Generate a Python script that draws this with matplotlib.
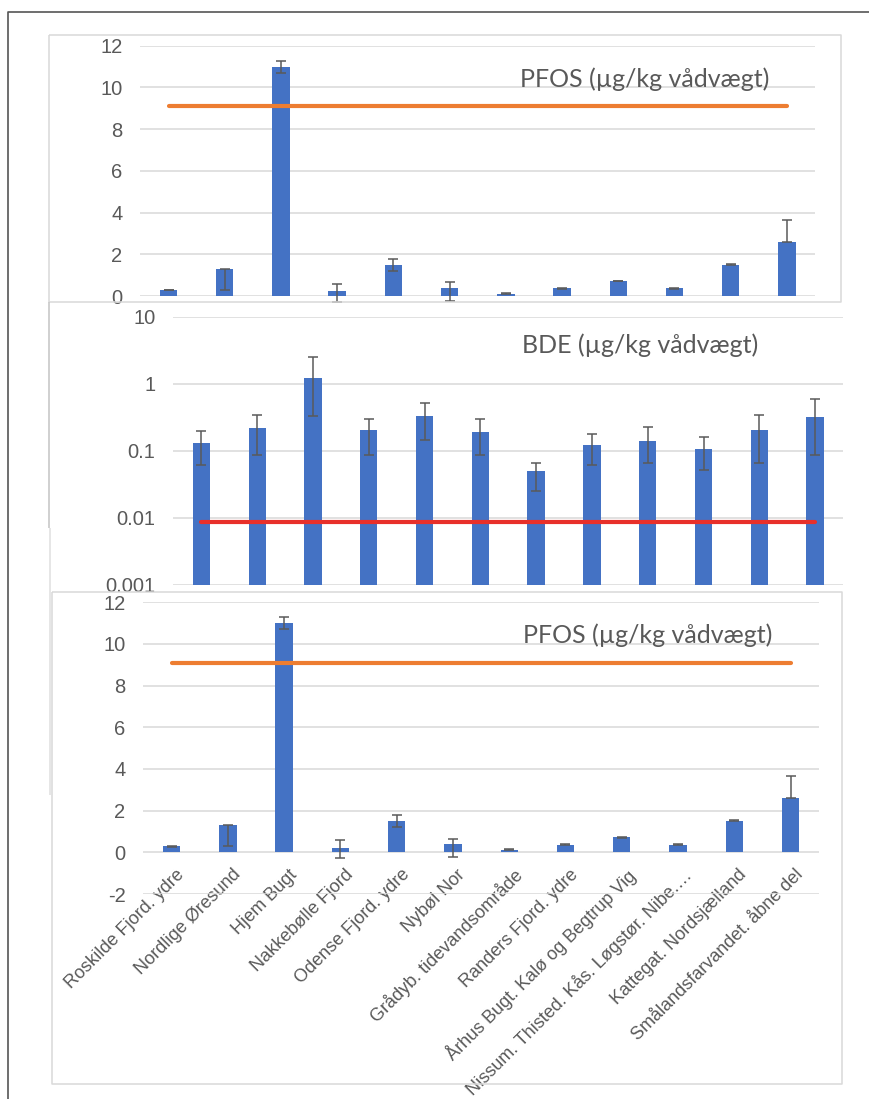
import matplotlib
matplotlib.use("Agg")
import matplotlib.pyplot as plt
from matplotlib.lines import Line2D
from matplotlib.transforms import ScaledTranslation
import numpy as np

# ---------------------------------------------------------------- data
sites = [
    "Roskilde Fjord. ydre",
    "Nordlige Øresund",
    "Hjem Bugt",
    "Nakkebølle Fjord",
    "Odense Fjord. ydre",
    "Nybøl Nor",
    "Grådyb. tidevandsområde",
    "Randers Fjord. ydre",
    "Århus Bugt. Kalø og Begtrup Vig",
    "Nissum. Thisted. Kås. Løgstør. Nibe.…",
    "Kattegat. Nordsjælland",
    "Smålandsfarvandet. åbne del",
]

pfos = [0.29, 1.30, 11.0, 0.23, 1.50, 0.38, 0.11, 0.37, 0.72, 0.37, 1.51, 2.60]
pfos_err_lo = [0.02, 1.02, 0.30, 0.50, 0.28, 0.60, 0.02, 0.02, 0.02, 0.02, 0.02, 0.0]
pfos_err_hi = [0.02, 0.0, 0.28, 0.35, 0.28, 0.27, 0.03, 0.02, 0.02, 0.02, 0.02, 1.04]

bde = [0.13, 0.22, 1.23, 0.20, 0.33, 0.19, 0.049, 0.12, 0.14, 0.107, 0.20, 0.32]
bde_err_lo = [0.07, 0.134, 0.90, 0.114, 0.185, 0.104, 0.024, 0.06, 0.074, 0.056, 0.134, 0.234]
bde_err_hi = [0.065, 0.12, 1.27, 0.10, 0.185, 0.11, 0.017, 0.055, 0.088, 0.053, 0.14, 0.26]

pfos_eqs = 9.1      # µg/kg wet weight
bde_eqs = 0.0085    # µg/kg wet weight

pfos_ticks = [0, 2, 4, 6, 8, 10, 12]
pfos_ticks_full = [-2, 0, 2, 4, 6, 8, 10, 12]
bde_ticks = [0.001, 0.01, 0.1, 1, 10]
bde_ticklabels = ["0.001", "0.01", "0.1", "1", "10"]

# ---------------------------------------------------------------- style
plt.rcParams["axes.unicode_minus"] = False
BLUE = "#4472C4"
ORANGE = "#ED7D31"
RED = "#E8302A"
GRID = "#D9D9D9"
TXT = "#595959"
ERR = "#5A5A5A"
TICK_FONT = ["Liberation Sans", "DejaVu Sans"]
LABEL_FONT = ["Lato", "DejaVu Sans"]

W, H = 870, 1099
fig = plt.figure(figsize=(W / 100, H / 100), dpi=100)
fig.patch.set_facecolor("white")


def axes_px(x0, x1, ytop, ybot):
    return fig.add_axes([x0 / W, 1 - ybot / H, (x1 - x0) / W, (ybot - ytop) / H])


def fig_line(xs, ys, color, lw):
    fig.add_artist(Line2D([x / W for x in xs], [1 - y / H for y in ys],
                          transform=fig.transFigure, color=color, lw=lw,
                          solid_capstyle="butt"))


def frame_px(x0, x1, ytop, ybot, color=GRID, lw=1.1):
    fig_line([x0, x1, x1, x0, x0], [ytop, ytop, ybot, ybot, ytop], color, lw)


def style_axes(ax):
    for s in ax.spines.values():
        s.set_visible(False)
    ax.set_facecolor("none")
    ax.grid(axis="y", color=GRID, lw=1.1)
    ax.set_axisbelow(True)
    ax.tick_params(axis="y", length=0, pad=13, labelsize=14.5, labelcolor=TXT)
    for lab in ax.get_yticklabels():
        lab.set_family(TICK_FONT)


def bars_with_errors(ax, vals, lo, hi):
    x = np.arange(len(vals))
    ax.bar(x, vals, width=0.31, color=BLUE, zorder=2)
    ax.errorbar(x, vals, yerr=[lo, hi], fmt="none", ecolor=ERR, elinewidth=1.1,
                capsize=3.6, capthick=1.1, zorder=3, clip_on=False)
    ax.set_xlim(-0.5, len(vals) - 0.5)
    return x


def label(x, y, s):
    fig.text(x / W, 1 - y / H, s, family=LABEL_FONT, fontsize=18, color=TXT,
             ha="left", va="baseline")


# outer frame of the page
fig_line([7.7, 7.7, 870], [1099, 11.7, 11.7], "#555555", 1.2)

# ---------------------------------------------------------------- panel 1: PFOS
frame_px(49, 841, 35, 301.7)
ax1 = axes_px(140.4, 815, 45.7, 296)
x = bars_with_errors(ax1, pfos, pfos_err_lo, pfos_err_hi)
ax1.plot([x[0], x[-1]], [pfos_eqs, pfos_eqs], color=ORANGE, lw=3,
         solid_capstyle="round", zorder=4)
ax1.set_ylim(0, 12)
ax1.set_yticks(pfos_ticks)
ax1.set_xticks([])
style_axes(ax1)
label(520.5, 86.7, "PFOS (µg/kg vådvægt)")

# ---------------------------------------------------------------- panel 2: BDE (log)
fig_line([49, 49], [302, 528], "#C8C8C8", 1.2)
fig_line([50, 50], [528, 795], "#E2E2E2", 1.2)
ax2 = axes_px(173.5, 843, 316.7, 584.5)
ax2.set_yscale("log")
x = bars_with_errors(ax2, bde, bde_err_lo, bde_err_hi)
ax2.plot([x[0], x[-1]], [bde_eqs, bde_eqs], color=RED, lw=3,
         solid_capstyle="round", zorder=4)
ax2.set_ylim(0.001, 10)
ax2.set_yticks(bde_ticks)
ax2.set_yticklabels(bde_ticklabels)
ax2.yaxis.set_minor_locator(matplotlib.ticker.NullLocator())
ax2.set_xticks([])
style_axes(ax2)
label(522, 353, "BDE (µg/kg vådvægt)")

# ---------------------------------------------------------------- panel 3: PFOS with site names
frame_px(51.7, 841.7, 592.3, 1084)
ax3 = axes_px(143.5, 818.7, 602.3, 894)
x = bars_with_errors(ax3, pfos, pfos_err_lo, pfos_err_hi)
ax3.plot([x[0], x[-1]], [pfos_eqs, pfos_eqs], color=ORANGE, lw=3,
         solid_capstyle="round", zorder=4)
ax3.set_ylim(-2, 12)
ax3.set_yticks(pfos_ticks_full)
style_axes(ax3)
ax3.spines["bottom"].set_position(("data", 0))
ax3.set_xticks(x)
ax3.set_xticklabels(sites, rotation=45, ha="right", va="top",
                    rotation_mode="anchor", family=TICK_FONT,
                    fontsize=13, color=TXT)
ax3.tick_params(axis="x", length=0, pad=10)
shift = ScaledTranslation(4 / 100, 0, fig.dpi_scale_trans)
for lab in ax3.get_xticklabels():
    lab.set_transform(lab.get_transform() + shift)
label(523, 643.3, "PFOS (µg/kg vådvægt)")

fig.savefig("out.png", dpi=100)
